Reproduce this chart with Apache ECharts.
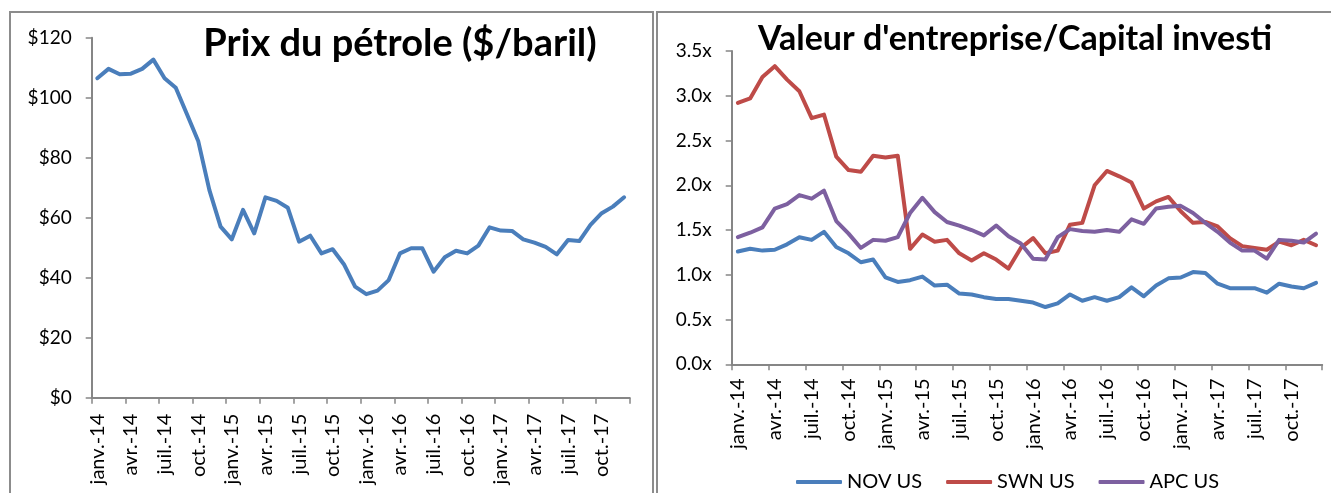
<!DOCTYPE html>
<html>
<head>
<meta charset="utf-8">
<script src="https://cdn.jsdelivr.net/npm/echarts@6/dist/echarts.min.js"></script>
<style>
    html, body { margin: 0; padding: 0; background: #fff; }
    #chart { width: 1331px; height: 493px; }
</style>
</head>
<body>
<div id="chart"></div>
<script>
var months = [
    'janv.-14', 'févr.-14', 'mars-14', 'avr.-14', 'mai-14', 'juin-14', 'juil.-14', 'août-14', 'sept.-14', 'oct.-14', 'nov.-14', 'déc.-14',
    'janv.-15', 'févr.-15', 'mars-15', 'avr.-15', 'mai-15', 'juin-15', 'juil.-15', 'août-15', 'sept.-15', 'oct.-15', 'nov.-15', 'déc.-15',
    'janv.-16', 'févr.-16', 'mars-16', 'avr.-16', 'mai-16', 'juin-16', 'juil.-16', 'août-16', 'sept.-16', 'oct.-16', 'nov.-16', 'déc.-16',
    'janv.-17', 'févr.-17', 'mars-17', 'avr.-17', 'mai-17', 'juin-17', 'juil.-17', 'août-17', 'sept.-17', 'oct.-17', 'nov.-17', 'déc.-17'
];

// prix du petrole, $/baril
var oilPrice = [
    106.5, 109.6, 107.8, 108.0, 109.6, 112.7, 106.5, 103.3, 94.5, 85.6, 69.2, 57.0,
    52.8, 62.6, 54.8, 66.8, 65.6, 63.3, 52.0, 54.0, 48.1, 49.5, 44.5, 37.0,
    34.5, 35.7, 39.2, 48.1, 49.8, 49.8, 42.0, 46.8, 49.0, 48.1, 50.7, 56.8,
    55.7, 55.6, 52.8, 51.7, 50.3, 47.8, 52.6, 52.2, 57.6, 61.5, 63.7, 66.8
];

// valeur d'entreprise / capital investi
var novUS = [
    1.26, 1.29, 1.27, 1.28, 1.34, 1.42, 1.39, 1.48, 1.31, 1.24, 1.14, 1.17,
    0.97, 0.92, 0.94, 0.98, 0.88, 0.89, 0.79, 0.78, 0.75, 0.73, 0.73, 0.71,
    0.69, 0.64, 0.68, 0.78, 0.71, 0.75, 0.71, 0.75, 0.86, 0.76, 0.88, 0.96,
    0.97, 1.03, 1.02, 0.90, 0.85, 0.85, 0.85, 0.80, 0.90, 0.87, 0.85, 0.91
];
var swnUS = [
    2.92, 2.97, 3.21, 3.33, 3.18, 3.05, 2.75, 2.79, 2.32, 2.17, 2.15, 2.33,
    2.31, 2.33, 1.29, 1.45, 1.37, 1.39, 1.24, 1.16, 1.24, 1.17, 1.07, 1.30,
    1.41, 1.24, 1.27, 1.56, 1.58, 2.00, 2.16, 2.10, 2.03, 1.74, 1.82, 1.87,
    1.71, 1.58, 1.59, 1.54, 1.41, 1.32, 1.30, 1.28, 1.37, 1.33, 1.39, 1.33
];
var apcUS = [
    1.42, 1.47, 1.53, 1.74, 1.79, 1.89, 1.85, 1.94, 1.60, 1.46, 1.30, 1.39,
    1.38, 1.42, 1.69, 1.86, 1.70, 1.59, 1.55, 1.50, 1.44, 1.55, 1.43, 1.35,
    1.18, 1.17, 1.42, 1.51, 1.49, 1.48, 1.50, 1.48, 1.62, 1.57, 1.74, 1.76,
    1.77, 1.69, 1.58, 1.48, 1.36, 1.27, 1.27, 1.18, 1.39, 1.38, 1.36, 1.46
];

var oilTicks = { min: 0, max: 120, interval: 20 };
var multTicks = { min: 0, max: 3.5, interval: 0.5 };

var axisGrey = '#868686';
var font = 'Lato';

var dom = document.getElementById('chart');
var myChart = echarts.init(dom, null, { renderer: 'canvas' });

function catAxis(gridIndex, margin) {
    return {
        type: 'category',
        gridIndex: gridIndex,
        data: months,
        boundaryGap: true,
        axisLine: { show: true, lineStyle: { color: axisGrey, width: 2 } },
        axisTick: { show: true, interval: 2, length: 6, lineStyle: { color: axisGrey, width: 1.5 } },
        axisLabel: {
            interval: 2,
            rotate: 90,
            margin: margin,
            color: '#000',
            fontFamily: font,
            fontSize: 20
        }
    };
}

function valAxis(gridIndex, ticks, fmt) {
    return {
        type: 'value',
        gridIndex: gridIndex,
        min: ticks.min,
        max: ticks.max,
        interval: ticks.interval,
        splitLine: { show: false },
        axisLine: { show: true, lineStyle: { color: axisGrey, width: 2 } },
        axisTick: { show: true, length: 6, lineStyle: { color: axisGrey, width: 1.5 } },
        axisLabel: {
            margin: 20,
            color: '#000',
            fontFamily: font,
            fontSize: 19,
            formatter: fmt
        }
    };
}

function lineSeries(name, data, color, axisIndex) {
    return {
        name: name,
        type: 'line',
        xAxisIndex: axisIndex,
        yAxisIndex: axisIndex,
        data: data,
        symbol: 'none',
        smooth: false,
        lineStyle: { color: color, width: 4, cap: 'round', join: 'round' },
        itemStyle: { color: color },
        emphasis: { disabled: true }
    };
}

var option = {
    animation: false,
    textStyle: { fontFamily: font },
    title: [{
        text: 'Prix du pétrole ($/baril)',
        left: 400,
        top: 25,
        padding: 0,
        textAlign: 'center',
        textStyle: { fontFamily: font, fontWeight: 'bold', fontSize: 38, color: '#000' }
    }, {
        text: "Valeur d'entreprise/Capital investi",
        left: 1015,
        top: 22,
        padding: 0,
        textAlign: 'center',
        textStyle: { fontFamily: font, fontWeight: 'bold', fontSize: 34, color: '#000' }
    }],
    legend: {
        data: ['NOV US', 'SWN US', 'APC US'],
        left: 796,
        top: 472,
        padding: 0,
        icon: 'roundRect',
        itemWidth: 46,
        itemHeight: 4,
        itemGap: 24,
        textStyle: { fontFamily: font, fontSize: 20, color: '#000' }
    },
    graphic: [{
        type: 'rect',
        shape: { x: 10, y: 12, width: 643, height: 500 },
        style: { fill: 'none', stroke: '#8c8c8c', lineWidth: 2 },
        silent: true
    }, {
        type: 'rect',
        shape: { x: 657, y: 12, width: 700, height: 500 },
        style: { fill: 'none', stroke: '#8c8c8c', lineWidth: 2 },
        silent: true
    }],
    grid: [
        { left: 91.7, top: 37.7, width: 538, height: 360 },
        { left: 731.7, top: 51, width: 590.5, height: 313.3 }
    ],
    xAxis: [catAxis(0, 16), catAxis(1, 14)],
    yAxis: [
        valAxis(0, oilTicks, function (v) { return '$' + v; }),
        valAxis(1, multTicks, function (v) { return v.toFixed(1) + 'x'; })
    ],
    series: [
        lineSeries('Prix du pétrole', oilPrice, '#4A7EBB', 0),
        lineSeries('NOV US', novUS, '#4A7EBB', 1),
        lineSeries('SWN US', swnUS, '#BE4B48', 1),
        lineSeries('APC US', apcUS, '#7D60A0', 1)
    ]
};

if (option && typeof option === 'object') {
    myChart.setOption(option, true);
}
window.onresize = function () {
    myChart.resize();
};
</script>
</body>
</html>
